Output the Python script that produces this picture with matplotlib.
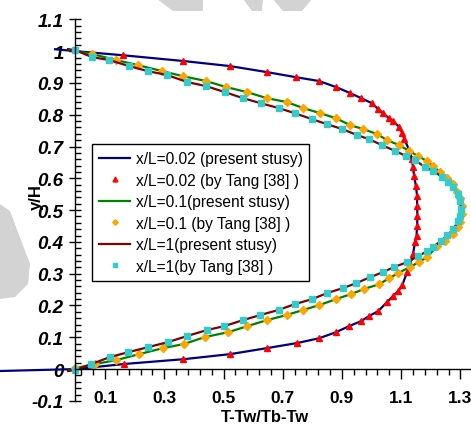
import matplotlib
matplotlib.use("Agg")
import matplotlib.pyplot as plt
import numpy as np
from matplotlib.patches import Polygon

plt.rcParams['font.family'] = ['Liberation Sans', 'DejaVu Sans']

# x/L = 0.02, Tang [38]
tang002_x = [0.161, 0.364, 0.522, 0.647, 0.745, 0.823, 0.880, 0.928, 0.965, 1.002,
             1.022, 1.039, 1.059, 1.073, 1.094, 1.104, 1.111, 1.127, 1.137, 1.140,
             1.144, 1.150, 1.154, 1.154, 1.155, 1.154, 1.152, 1.147, 1.140, 1.130,
             1.120, 1.104, 1.090, 1.073, 1.053, 1.022, 0.992, 0.965, 0.924, 0.880,
             0.823, 0.749, 0.647, 0.522, 0.364, 0.164]
tang002_y = [0.987, 0.969, 0.953, 0.934, 0.918, 0.906, 0.887, 0.868, 0.852, 0.836,
             0.818, 0.805, 0.789, 0.780, 0.761, 0.742, 0.723, 0.689, 0.660, 0.635,
             0.607, 0.575, 0.544, 0.513, 0.480, 0.450, 0.420, 0.399, 0.362, 0.330,
             0.305, 0.264, 0.245, 0.230, 0.211, 0.182, 0.167, 0.151, 0.135, 0.116,
             0.097, 0.082, 0.066, 0.047, 0.031, 0.016]

# x/L = 0.1, Tang [38]
tang01_x = [0.056, 0.137, 0.211, 0.293, 0.364, 0.441, 0.509, 0.580, 0.647, 0.713,
            0.769, 0.826, 0.880, 0.928, 0.972, 1.019, 1.053, 1.094, 1.127, 1.157,
            1.188, 1.208, 1.232, 1.256, 1.276, 1.290, 1.299, 1.306, 1.306, 1.299,
            1.293, 1.275, 1.249, 1.222, 1.188, 1.160, 1.130, 1.090, 1.058, 1.026,
            0.975, 0.931, 0.880, 0.823, 0.769, 0.713, 0.647, 0.580, 0.516, 0.438,
            0.367, 0.296, 0.215, 0.137, 0.066, 0.0]
tang01_y = [0.991, 0.972, 0.956, 0.937, 0.921, 0.906, 0.887, 0.871, 0.852, 0.840,
            0.821, 0.805, 0.789, 0.767, 0.755, 0.739, 0.720, 0.704, 0.686, 0.670,
            0.654, 0.638, 0.619, 0.601, 0.582, 0.557, 0.538, 0.513, 0.487, 0.462,
            0.447, 0.425, 0.403, 0.387, 0.352, 0.337, 0.321, 0.302, 0.285, 0.267,
            0.252, 0.236, 0.220, 0.201, 0.186, 0.170, 0.154, 0.135, 0.116, 0.101,
            0.079, 0.066, 0.047, 0.028, 0.016, 0.003]

# x/L = 1, Tang [38]
tang1_x = [0.0, 0.056, 0.114, 0.181, 0.245, 0.309, 0.377, 0.441, 0.505, 0.566,
           0.627, 0.686, 0.740, 0.799, 0.850, 0.901, 0.951, 0.992, 1.036, 1.080,
           1.117, 1.147, 1.181, 1.208, 1.239, 1.259, 1.276, 1.293, 1.299, 1.303,
           1.299, 1.293, 1.276, 1.256, 1.235, 1.208, 1.188, 1.157, 1.120, 1.076,
           1.039, 0.995, 0.948, 0.904, 0.850, 0.799, 0.740, 0.686, 0.624, 0.566,
           0.502, 0.445, 0.377, 0.313, 0.245, 0.178, 0.117, 0.054, 0.0]
tang1_y = [1.003, 0.981, 0.972, 0.953, 0.937, 0.925, 0.903, 0.890, 0.871, 0.852,
           0.836, 0.821, 0.805, 0.786, 0.770, 0.755, 0.736, 0.723, 0.704, 0.686,
           0.670, 0.657, 0.635, 0.623, 0.604, 0.588, 0.572, 0.550, 0.528, 0.503,
           0.481, 0.465, 0.440, 0.421, 0.403, 0.384, 0.371, 0.355, 0.336, 0.321,
           0.305, 0.289, 0.270, 0.255, 0.239, 0.220, 0.204, 0.186, 0.170, 0.154,
           0.135, 0.123, 0.104, 0.085, 0.069, 0.053, 0.038, 0.016, -0.003]

# present study curves (end points read where the lines stop)
present002_x = [-0.069, 0.0] + tang002_x + [0.0, -0.255]
present002_y = [1.006, 1.0] + tang002_y + [0.0, -0.006]
present01_x = [-0.025, 0.0] + tang01_x + [-0.025]
present01_y = [1.006, 1.0] + tang01_y + [-0.005]
present1_x = [-0.025] + tang1_x + [-0.025]
present1_y = [1.006] + tang1_y + [-0.006]

labels = ['x/L=0.02 (present stusy)', 'x/L=0.02 (by Tang [38] )',
          'x/L=0.1(present stusy)', 'x/L=0.1 (by Tang [38] )',
          'x/L=1(present stusy)', 'x/L=1(by Tang [38] )']

fig = plt.figure(figsize=(4.71, 4.27), dpi=100)

# faint watermark shapes in the background
wm = '#d3d3d3'
for pts in [[(157, 0), (203, 0), (203, 12), (173, 12)],
            [(243, 0), (263, 0), (262, 12), (252, 12)],
            [(273, 0), (312, 0), (302, 12), (283, 12)],
            [(0, 205), (10, 212), (30, 265), (28, 285), (15, 298), (0, 300)]]:
    fig.patches.append(Polygon([(x / 471, 1 - y / 427) for x, y in pts],
                               closed=True, transform=fig.transFigure,
                               facecolor=wm, edgecolor='none', zorder=0))

ax = fig.add_axes([0, 0, 1, 1])
ax.patch.set_alpha(0)

ax.plot(present002_x, present002_y, color='#000080', lw=1.6, label=labels[0])
ax.plot(tang002_x, tang002_y, ls='none', marker='^', ms=5, color='#FF0000',
        mec='#FF0000', label=labels[1])
ax.plot(present01_x, present01_y, color='#008000', lw=1.6, label=labels[2])
ax.plot(tang01_x, tang01_y, ls='none', marker='D', ms=4, color='#FFA500',
        mec='#FFA500', label=labels[3])
ax.plot(present1_x, present1_y, color='#800000', lw=1.6, label=labels[4])
ax.plot(tang1_x, tang1_y, ls='none', marker='s', ms=5, color='#33CCCC',
        mec='#33CCCC', label=labels[5])

ax.set_xlim(-0.255, 1.336)
ax.set_ylim(-0.179, 1.164)

for s in ['top', 'right']:
    ax.spines[s].set_visible(False)
ax.spines['left'].set_position(('data', 0))
ax.spines['bottom'].set_position(('data', 0))
ax.spines['left'].set_bounds(-0.1, 1.1)
ax.spines['bottom'].set_bounds(0, 1.336)
ax.spines['left'].set_linewidth(1.0)
ax.spines['bottom'].set_linewidth(1.0)

yt = np.round(np.arange(-0.1, 1.11, 0.1), 2)
ax.set_yticks(yt)
ax.set_yticklabels(['%g' % v for v in yt], fontsize=13.5, fontweight='bold',
                   fontstyle='italic')
ax.set_yticks(np.round(np.arange(-0.1, 1.101, 0.02), 2), minor=True)
xt = np.round(np.arange(0.1, 1.31, 0.2), 2)
ax.set_xticks(xt)
ax.set_xticklabels(['%g' % v for v in xt], fontsize=12.5, fontweight='bold')
ax.set_xticks(np.round(np.arange(0.02, 1.34, 0.04), 2), minor=True)

ax.tick_params(axis='y', which='major', direction='inout', length=9, width=1,
               pad=4)
ax.tick_params(axis='y', which='minor', direction='in', length=4, width=1)
ax.tick_params(axis='x', which='major', direction='out', length=7, width=1,
               pad=8)
ax.tick_params(axis='x', which='minor', direction='out', length=4, width=1)

fig.text(36 / 471, 1 - 197 / 427, 'y/H', rotation=90, ha='center',
         va='center', fontsize=12, fontweight='bold')
fig.text(265 / 471, 1 - 418 / 427, 'T-Tw/Tb-Tw', ha='center', va='center',
         fontsize=12, fontweight='bold')

leg = ax.legend(loc='upper left', bbox_to_anchor=(92 / 471, 1 - 145 / 427),
                bbox_transform=fig.transFigure, borderaxespad=0,
                fontsize=11.2, fancybox=False, framealpha=1, edgecolor='black',
                handlelength=2.0, handletextpad=0.35, labelspacing=0.42,
                borderpad=0.45, markerscale=0.7)
leg.get_frame().set_linewidth(1.0)

fig.savefig('out.png', dpi=100)
